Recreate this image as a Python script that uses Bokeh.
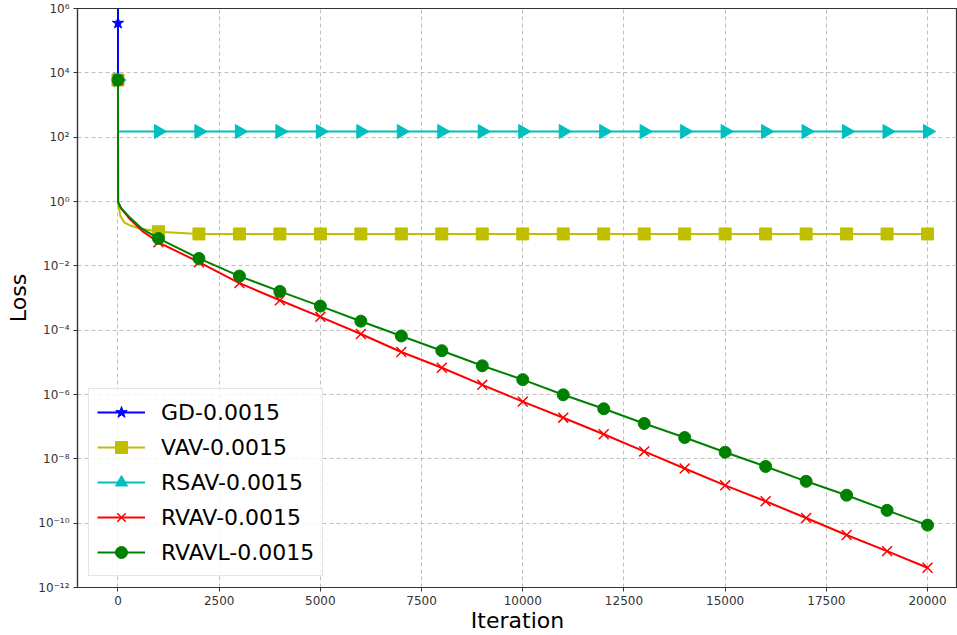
import numpy as np
from bokeh.plotting import figure
from bokeh.models import FixedTicker, CustomJSTickFormatter, Range1d, Legend
from bokeh.embed import file_html
from bokeh.resources import INLINE

# ---------------- data ----------------
x_ticks = [0, 2500, 5000, 7500, 10000, 12500, 15000, 17500, 20000]
y_ticks = [1e-12, 1e-10, 1e-8, 1e-6, 1e-4, 1e-2, 1e0, 1e2, 1e4, 1e6]

marker_step = 1000
tail_iter = [1000, 2000, 3000, 4000, 5000, 6000, 7000, 8000, 9000, 10000,
             11000, 12000, 13000, 14000, 15000, 16000, 17000, 18000, 19000, 20000]

# GD diverges right away
gd_iter = [0, 0]
gd_loss = [6.0e3, 1.0e9]
gd_mark_iter = [0]
gd_mark_loss = [3.5e5]

vav_iter = [0, 3, 60, 160, 300, 490] + tail_iter
vav_loss = [6.0e3, 0.9, 0.35, 0.22, 0.18, 0.15, 0.115] + [0.098] * 19

rsav_iter = [0, 3] + tail_iter
rsav_loss = [6.0e3, 150.0] + [150.0] * 20

rvav_iter = [0, 3, 80, 300, 600] + tail_iter
rvav_loss = [6.0e3, 0.95, 0.6, 0.28, 0.12,
             5.4e-2, 1.3e-2, 2.9e-3, 8.5e-4, 2.6e-4, 7.6e-5, 2.1e-5, 6.8e-6, 2.0e-6, 6.0e-7,
             1.9e-7, 5.8e-8, 1.7e-8, 5.0e-9, 1.5e-9, 4.8e-10, 1.45e-10, 4.3e-11, 1.35e-11, 4.1e-12]

rvavl_iter = [0, 3, 80, 300, 600] + tail_iter
rvavl_loss = [6.0e3, 0.95, 0.62, 0.31, 0.14,
              7.1e-2, 1.7e-2, 4.8e-3, 1.6e-3, 5.6e-4, 1.9e-4, 6.6e-5, 2.3e-5, 7.8e-6, 2.9e-6,
              9.8e-7, 3.6e-7, 1.26e-7, 4.6e-8, 1.6e-8, 5.8e-9, 2.0e-9, 7.4e-10, 2.5e-10, 8.7e-11]

labels = ["GD-0.0015", "VAV-0.0015", "RSAV-0.0015", "RVAV-0.0015", "RVAVL-0.0015"]


def marks(it, ls):
    xs, ys = [], []
    for a, b in zip(it, ls):
        if a % marker_step == 0:
            xs.append(a)
            ys.append(b)
    return xs, ys


# ---------------- figure ----------------
p = figure(width=957, height=635, y_axis_type="log",
           x_range=Range1d(-1000, 20740), y_range=Range1d(1e-12, 1e6),
           output_backend="svg", toolbar_location=None,
           min_border_left=77, min_border_right=0, min_border_top=8, min_border_bottom=46)
p.background_fill_color = "white"
p.border_fill_color = "white"
p.outline_line_color = "#333333"
p.outline_line_width = 1.2

font = "DejaVu Sans"
for ax in (p.xaxis[0], p.yaxis[0]):
    ax.major_label_text_font = font
    ax.major_label_text_font_size = "12px"
    ax.major_label_text_color = "#333333"
    ax.axis_label_text_font = font
    ax.axis_label_text_font_size = "22px"
    ax.axis_label_text_font_style = "normal"
    ax.axis_label_text_color = "black"
    ax.axis_line_color = "#333333"
    ax.axis_line_width = 1.2
    ax.major_tick_line_color = "#333333"
    ax.major_tick_out = 4
    ax.major_tick_in = 0
    ax.minor_tick_line_color = None

p.xaxis.ticker = FixedTicker(ticks=x_ticks)
p.yaxis.ticker = FixedTicker(ticks=y_ticks)
p.xaxis.axis_label = "Iteration"
p.yaxis.axis_label = "Loss"
p.xaxis.axis_label_standoff = 0
p.yaxis.axis_label_standoff = 4
p.xaxis.major_label_standoff = 4
p.yaxis.major_label_standoff = 4

p.yaxis.formatter = CustomJSTickFormatter(code="""
const sup = {'-':'\u207b','0':'\u2070','1':'\u00b9','2':'\u00b2','3':'\u00b3','4':'\u2074',
             '5':'\u2075','6':'\u2076','7':'\u2077','8':'\u2078','9':'\u2079'};
const e = Math.round(Math.log10(tick)).toString();
let s = '';
for (const c of e) { s += sup[c]; }
return '10' + s;
""")

p.xgrid.grid_line_color = "#b0b0b0"
p.ygrid.grid_line_color = "#b0b0b0"
p.xgrid.grid_line_dash = "4 3"
p.ygrid.grid_line_dash = "4 3"
p.xgrid.grid_line_width = 0.8
p.ygrid.grid_line_width = 0.8

items = []

# GD
c = "#0000ff"
l1 = p.line(gd_iter, gd_loss, line_color=c, line_width=2)
m1 = p.scatter(gd_mark_iter, gd_mark_loss, marker="star", size=12, fill_color=c, line_color=c)
items.append((labels[0], [l1, m1]))

# VAV
c = "#bfbf00"
l2 = p.line(vav_iter, vav_loss, line_color=c, line_width=2)
mx, my = marks(vav_iter, vav_loss)
m2 = p.scatter(mx, my, marker="square", size=12, fill_color=c, line_color=c)
items.append((labels[1], [l2, m2]))

# RSAV
c = "#00bfbf"
l3 = p.line(rsav_iter, rsav_loss, line_color=c, line_width=2)
mx, my = marks(rsav_iter, rsav_loss)
m3 = p.scatter(mx, my, marker="triangle", size=14, angle=-np.pi / 2, fill_color=c, line_color=c)
items.append((labels[2], [l3, m3]))

# RVAV
c = "#ff0000"
l4 = p.line(rvav_iter, rvav_loss, line_color=c, line_width=2)
mx, my = marks(rvav_iter, rvav_loss)
m4 = p.scatter(mx, my, marker="x", size=14, line_color=c, line_width=1.5)
items.append((labels[3], [l4, m4]))

# RVAVL
c = "#008000"
l5 = p.line(rvavl_iter, rvavl_loss, line_color=c, line_width=2)
mx, my = marks(rvavl_iter, rvavl_loss)
m5 = p.scatter(mx, my, marker="circle", size=12, fill_color=c, line_color=c)
items.append((labels[4], [l5, m5]))

legend = Legend(items=items, location="bottom_left")
legend.label_text_font = font
legend.label_text_font_size = "22px"
legend.label_text_color = "black"
legend.glyph_width = 48
legend.glyph_height = 30
legend.label_height = 30
legend.spacing = 5
legend.padding = 8
legend.margin = 11
legend.label_standoff = 16
legend.background_fill_color = "white"
legend.background_fill_alpha = 0.8
legend.border_line_color = "#cccccc"
legend.border_line_width = 1
p.add_layout(legend)

open("out.html", "w").write(file_html(p, INLINE))
